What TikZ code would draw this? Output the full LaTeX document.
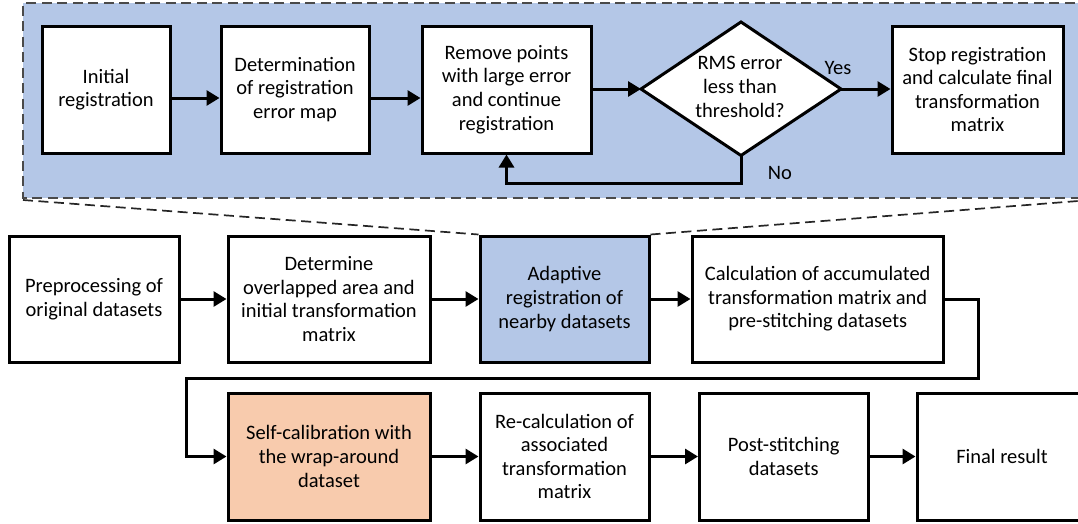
\documentclass[tikz,border=0pt]{standalone}
\usepackage{fontspec}
\setmainfont{Carlito}
\usetikzlibrary{arrows.meta,calc}
\definecolor{panelblue}{HTML}{B4C7E7}
\definecolor{orangefill}{HTML}{F8CBAD}
\definecolor{dashgray}{HTML}{4A4A4A}
\tikzset{
  box/.style={draw=black, line width=3pt, fill=white, align=center, inner sep=0pt,
    font=\fontsize{20.5}{23.6}\selectfont},
  arr/.style={line width=3pt, -{Triangle[length=13pt,width=15pt]}},
  lbl/.style={font=\fontsize{20.5}{23.6}\selectfont, inner sep=0pt},
  panelline/.style={draw=dashgray, line width=1.7pt, dash pattern=on 10pt off 5.5pt},
  zoomline/.style={draw=black!85, line width=1.7pt, dash pattern=on 10pt off 5.5pt}
}
\begin{document}
\begin{tikzpicture}[x=1pt,y=-1pt]
\useasboundingbox (0,0) rectangle (1078,523);
\clip (0,0) rectangle (1078,523);
% top panel
\path[fill=panelblue] (23,3) rectangle (1090,198);
\draw[panelline] (1090,3) -- (23,3) -- (23,198) -- (1090,198);
% top row
\node[box, minimum width=128pt, minimum height=127pt] (init) at (106,89.5) {Initial\\registration};
\node[box, minimum width=148pt, minimum height=127pt] (det) at (295,89.5) {Determination\\of registration\\error map};
\node[box, minimum width=169pt, minimum height=127pt] (rem) at (506.5,89.5) {Remove points\\with large error\\and continue\\registration};
\coordinate (dL) at (641,89);
\coordinate (dT) at (741,22);
\coordinate (dR) at (841,89);
\coordinate (dB) at (741,155.5);
\draw[line width=3pt, fill=white, line join=miter] (dL) -- (dT) -- (dR) -- (dB) -- cycle;
\node[lbl, align=center] (dia) at (740,87) {RMS error\\less than\\threshold?};
\node[box, minimum width=171pt, minimum height=127pt] (stop) at (977.5,89.5) {Stop registration\\and calculate final\\transformation\\matrix};
\node[lbl] (yes) at (838,68) {Yes};
\node[lbl] (no) at (780,173) {No};
\coordinate (lp) at (741,183);
\draw[arr] ([yshift=-8.5pt]init.east) -- ([yshift=-8.5pt]det.west);
\draw[arr] ([yshift=-8.5pt]det.east) -- ([yshift=-8.5pt]rem.west);
\draw[arr] (rem.east |- dL) -- (dL);
\draw[arr] (dR) -- (stop.west |- dR);
\draw[arr] (dB) -- (lp) -| (rem.south);
% middle row
\node[box, minimum width=170pt, minimum height=126pt] (pre) at (94,299) {Preprocessing of\\original datasets};
\node[box, minimum width=202pt, minimum height=126pt] (detm) at (329,299) {Determine\\overlapped area and\\initial transformation\\matrix};
\node[box, fill=panelblue, minimum width=169pt, minimum height=126pt] (ada) at (564.5,299) {Adaptive\\registration of\\nearby datasets};
\node[box, minimum width=251.5pt, minimum height=126pt] (calc) at (817.75,299) {Calculation of accumulated\\transformation matrix and\\pre-stitching datasets};
% zoom lines
\coordinate (zl) at (23,200);
\coordinate (zr) at (1078,201);
\draw[zoomline] (zl) -- (ada.north west);
\draw[zoomline] (ada.north east) -- (zr);
\draw[arr] (pre.east) -- (detm.west);
\draw[arr] (detm.east) -- (ada.west);
\draw[arr] (ada.east) -- (calc.west);
% bottom row
\node[box, fill=orangefill, minimum width=202pt, minimum height=127pt] (self) at (329,456.5) {Self-calibration with\\the wrap-around\\dataset};
\node[box, minimum width=169pt, minimum height=127pt] (recalc) at (564.5,456.5) {Re-calculation of\\associated\\transformation\\matrix};
\node[box, minimum width=168.5pt, minimum height=127pt] (post) at (783.75,456.5) {Post-stitching\\datasets};
\node[box, minimum width=170pt, minimum height=127pt] (final) at (1002,456.5) {Final result};
\coordinate (c1) at (978,378);
\coordinate (c2) at (186,378);
\draw[arr] (calc.east) -| (c1) -- (c2) |- (self.west);
\draw[arr] (self.east) -- (recalc.west);
\draw[arr] (recalc.east) -- (post.west);
\draw[arr] (post.east) -- (final.west);
\end{tikzpicture}
\end{document}
